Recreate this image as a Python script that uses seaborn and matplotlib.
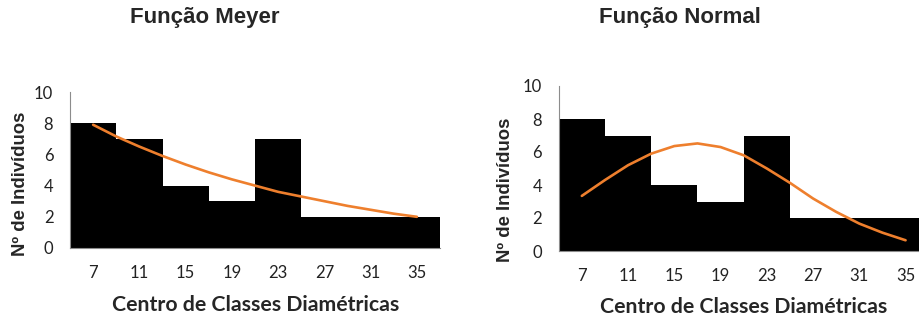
import numpy as np
import pandas as pd
import matplotlib
matplotlib.use("Agg")
import matplotlib.pyplot as plt
import seaborn as sns

# class centres and observed counts
centros = [7, 11, 15, 19, 23, 27, 31, 35]
n_obs = [8, 7, 4, 3, 7, 2, 2, 2]

# fitted curves (centres and class limits)
x_curva = [7, 9, 11, 13, 15, 17, 19, 21, 23, 25, 27, 29, 31, 33, 35]
meyer = [7.9, 7.15, 6.5, 5.9, 5.35, 4.85, 4.4, 4.0, 3.6, 3.3, 3.0, 2.7, 2.45, 2.2, 2.0]
normal = [3.34, 4.3, 5.2, 5.9, 6.36, 6.52, 6.3, 5.8, 5.0, 4.13, 3.18, 2.37, 1.66, 1.11, 0.65]

titulos = ["Função Meyer", "Função Normal"]
limites = [5, 9, 13, 17, 21, 25, 29, 33, 37]

sns.set_style("white")
plt.rcParams['font.family'] = ['Lato', 'DejaVu Sans']

df_bar = pd.DataFrame({'centro': centros, 'n': n_obs})

fig = plt.figure(figsize=(9.2, 3.2), dpi=100)
ax1 = fig.add_axes([70/920, 1-248/320, 370/920, 156/320])
ax2 = fig.add_axes([558.7/920, 1-251/320, 370/920, 165/320])

laranja = "#EE7F2D"
cinza = "#8C8C8C"

for ax, curva in [(ax1, meyer), (ax2, normal)]:
    sns.barplot(data=df_bar, x='centro', y='n', native_scale=True, width=1,
                color='black', saturation=1, edgecolor='black', linewidth=0, ax=ax)
    df_c = pd.DataFrame({'x': x_curva, 'y': curva})
    sns.lineplot(data=df_c, x='x', y='y', color=laranja, linewidth=1.9, ax=ax)
    ax.set_xlim(5, 37)
    ax.set_ylim(0, 10)
    ax.set_yticks(range(0, 11, 2))
    ax.set_xticks(centros)
    ax.set_xticklabels([str(c) for c in centros])
    ax.set_xticks(limites, minor=True)
    ax.tick_params(axis='x', which='major', length=0, pad=12, labelsize=12)
    ax.tick_params(axis='x', which='minor', length=5, width=0.8, color=cinza, direction='out')
    ax.tick_params(axis='y', length=5, width=0.8, color=cinza, direction='out', pad=7, labelsize=12)
    ax.tick_params(axis='both', labelcolor='#222222')
    for s in ['top', 'right']:
        ax.spines[s].set_visible(False)
    for s in ['left', 'bottom']:
        ax.spines[s].set_color(cinza)
        ax.spines[s].set_linewidth(0.8)
    ax.set_xlabel('')
    ax.set_ylabel('')
    ax.grid(False)

fig.text(205/920, 1-18/320, titulos[0], ha='center', va='center', fontsize=16,
         fontweight='bold', family='Liberation Sans')
fig.text(680/920, 1-18/320, titulos[1], ha='center', va='center', fontsize=16,
         fontweight='bold', family='Liberation Sans')

fig.text(21/920, 1-184/320, 'Nº de Indivíduos', rotation=90, ha='center', va='center',
         fontsize=13.3, fontweight='bold', family='Liberation Sans')
fig.text(506/920, 1-190/320, 'Nº de Indivíduos', rotation=90, ha='center', va='center',
         fontsize=13.3, fontweight='bold', family='Liberation Sans')
fig.text(256/920, 1-305/320, 'Centro de Classes Diamétricas', ha='center', va='center',
         fontsize=15.3, fontweight='bold')
fig.text(744/920, 1-307/320, 'Centro de Classes Diamétricas', ha='center', va='center',
         fontsize=15.3, fontweight='bold')

fig.savefig('out.png', dpi=100)
